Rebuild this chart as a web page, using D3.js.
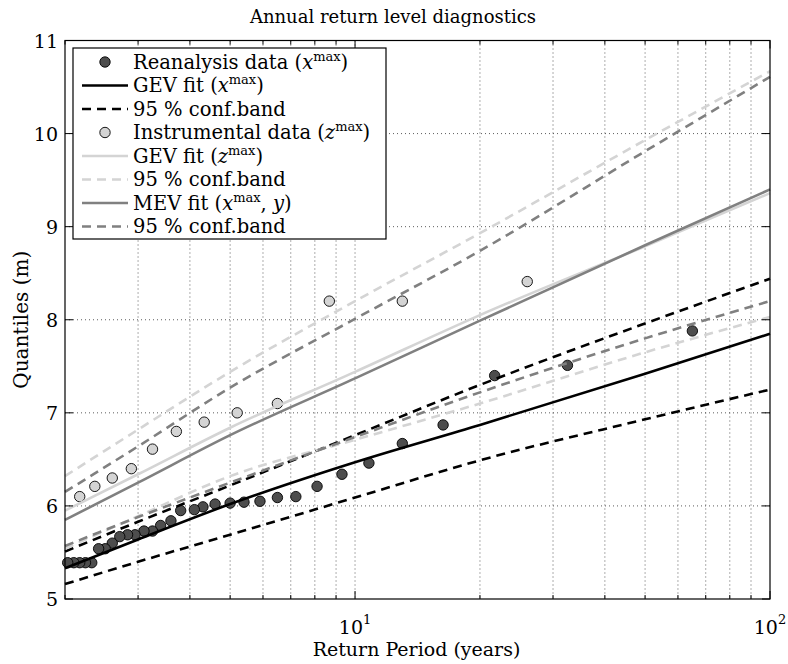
<!DOCTYPE html>
<html>
<head>
<meta charset="utf-8">
<script src="https://cdn.jsdelivr.net/npm/d3@7"></script>
<style>
body { margin: 0; background: #fff; }
</style>
</head>
<body>
<script>
// Эмпирические точки: период повторяемости (лет) и уровень (м)
let reanalysisT = [65, 32.5, 21.7, 16.3, 13, 10.8, 9.3, 8.1, 7.2, 6.5, 5.9, 5.4, 5.0, 4.6, 4.3, 4.1,
                   3.8, 3.6, 3.4, 3.25, 3.1, 2.95, 2.83, 2.71, 2.6, 2.5, 2.41, 2.32, 2.24, 2.17, 2.1, 2.03];
let reanalysisQ = [7.88, 7.51, 7.40, 6.87, 6.67, 6.46, 6.34, 6.21, 6.10, 6.09, 6.05, 6.04, 6.03, 6.02, 5.99, 5.96,
                   5.95, 5.84, 5.79, 5.73, 5.73, 5.69, 5.69, 5.67, 5.60, 5.54, 5.54, 5.39, 5.39, 5.39, 5.39, 5.39];
let instrumentalT = [26, 13, 8.67, 6.5, 5.2, 4.33, 3.71, 3.25, 2.89, 2.6, 2.36, 2.17];
let instrumentalQ = [8.41, 8.20, 8.20, 7.10, 7.00, 6.90, 6.80, 6.61, 6.40, 6.30, 6.21, 6.10];

// Кривые подгонки в узлах fitT
let fitT     = [2, 3, 5, 10, 20, 50, 100];
let gevX     = [5.33, 5.64, 6.02, 6.47, 6.87, 7.42, 7.85];
let gevXLow  = [5.16, 5.40, 5.69, 6.09, 6.49, 6.93, 7.25];
let gevXHigh = [5.51, 5.83, 6.22, 6.76, 7.30, 7.96, 8.44];
let gevZ     = [5.95, 6.34, 6.84, 7.44, 8.05, 8.79, 9.36];
let gevZLow  = [5.54, 5.89, 6.32, 6.71, 7.10, 7.65, 8.03];
let gevZHigh = [6.32, 6.82, 7.44, 8.20, 8.93, 9.93, 10.67];
let mev      = [5.85, 6.25, 6.76, 7.37, 7.99, 8.80, 9.40];
let mevLow   = [5.57, 5.88, 6.25, 6.74, 7.22, 7.80, 8.20];
let mevHigh  = [6.15, 6.64, 7.27, 8.01, 8.74, 9.81, 10.61];

let yTicks = [5, 6, 7, 8, 9, 10, 11];
let xMajor = [10, 100];
let xMinor = [2, 3, 4, 5, 6, 7, 8, 9, 20, 30, 40, 50, 60, 70, 80, 90];

let margin = {top: 40.5, right: 18, bottom: 65, left: 65},
    width = 788 - margin.left - margin.right,
    height = 664 - margin.top - margin.bottom;

let svg = d3.select("body").append("svg")
    .attr("width", 788)
    .attr("height", 664)
    .attr("font-family", "'DejaVu Serif', 'Liberation Serif', 'Times New Roman', serif");
let g = svg.append("g")
    .attr("transform", "translate(" + margin.left + "," + margin.top + ")");

let x = d3.scaleLog().domain([2, 100]).range([0, width]);
let y = d3.scaleLinear().domain([5, 11]).range([height, 0]);

const DARK = "#4d4d4d", LIGHT = "#d4d4d4", MID = "#808080";

// Сетка
let grid = g.append("g").attr("stroke", "#333").attr("stroke-width", 0.8)
    .attr("stroke-dasharray", "1,3");
grid.selectAll(".gx").data(xMinor.concat([10]).filter(d => d > 2))
    .join("line")
    .attr("x1", d => x(d)).attr("x2", d => x(d))
    .attr("y1", 0).attr("y2", height);
grid.selectAll(".gy").data(yTicks.filter(d => d > 5 && d < 11))
    .join("line")
    .attr("x1", 0).attr("x2", width)
    .attr("y1", d => y(d)).attr("y2", d => y(d));

// Линии
let line = d3.line()
    .x(d => x(d[0]))
    .y(d => y(d[1]))
    .curve(d3.curveMonotoneX);

function drawLine(vals, color, dashed) {
    g.append("path")
        .datum(fitT.map((t, i) => [t, vals[i]]))
        .attr("fill", "none")
        .attr("stroke", color)
        .attr("stroke-width", 2.6)
        .attr("stroke-dasharray", dashed ? "9,6" : null)
        .attr("d", line);
}

function drawPoints(ts, qs, fill) {
    g.append("g").selectAll("circle")
        .data(ts.map((t, i) => [t, qs[i]]))
        .join("circle")
        .attr("cx", d => x(d[0]))
        .attr("cy", d => y(d[1]))
        .attr("r", 5.2)
        .attr("fill", fill)
        .attr("stroke", "#000")
        .attr("stroke-width", 0.9);
}

drawPoints(reanalysisT, reanalysisQ, DARK);
drawLine(gevX, "#000", false);
drawLine(gevXLow, "#000", true);
drawLine(gevXHigh, "#000", true);
drawPoints(instrumentalT, instrumentalQ, LIGHT);
drawLine(gevZ, LIGHT, false);
drawLine(gevZLow, LIGHT, true);
drawLine(gevZHigh, LIGHT, true);
drawLine(mev, MID, false);
drawLine(mevLow, MID, true);
drawLine(mevHigh, MID, true);

// Рамка и засечки внутрь
g.append("rect")
    .attr("width", width).attr("height", height)
    .attr("fill", "none").attr("stroke", "#000").attr("stroke-width", 1.2);

let ticks = g.append("g").attr("stroke", "#000").attr("stroke-width", 1);
function xTick(vals, len) {
    ticks.selectAll(null).data(vals).join("line")
        .attr("x1", d => x(d)).attr("x2", d => x(d))
        .attr("y1", height).attr("y2", height - len);
    ticks.selectAll(null).data(vals).join("line")
        .attr("x1", d => x(d)).attr("x2", d => x(d))
        .attr("y1", 0).attr("y2", len);
}
xTick(xMinor, 4);
xTick(xMajor, 8);
ticks.selectAll(null).data(yTicks).join("line")
    .attr("x1", 0).attr("x2", 8)
    .attr("y1", d => y(d)).attr("y2", d => y(d));
ticks.selectAll(null).data(yTicks).join("line")
    .attr("x1", width).attr("x2", width - 8)
    .attr("y1", d => y(d)).attr("y2", d => y(d));

// Подписи засечек
g.append("g").selectAll("text").data(yTicks).join("text")
    .attr("x", -7)
    .attr("y", d => y(d) + 7)
    .attr("text-anchor", "end")
    .style("font-size", "19px")
    .text(d => d);

let xl = g.append("g").selectAll("text").data(xMajor).join("text")
    .attr("x", d => x(d))
    .attr("y", height + 35)
    .attr("text-anchor", "middle")
    .style("font-size", "19px");
xl.append("tspan").text("10");
xl.append("tspan").attr("dy", -10).style("font-size", "13px").text(d => Math.round(Math.log10(d)));

// Заголовок и оси
svg.append("text")
    .attr("x", 393).attr("y", 23)
    .attr("text-anchor", "middle")
    .style("font-size", "18px")
    .text("Annual return level diagnostics");

svg.append("text")
    .attr("x", margin.left + width / 2 - 1).attr("y", 656)
    .attr("text-anchor", "middle")
    .style("font-size", "19px")
    .text("Return Period (years)");

svg.append("text")
    .attr("transform", "translate(28," + (margin.top + height / 2) + ") rotate(-90)")
    .attr("text-anchor", "middle")
    .style("font-size", "20px")
    .text("Quantiles (m)");

// Легенда
let legendItems = [
    {pre: "Reanalysis data (", v: "x", sup: "max", post: ")", kind: "point", color: DARK},
    {pre: "GEV fit (", v: "x", sup: "max", post: ")", kind: "solid", color: "#000"},
    {pre: "95 % conf.band", kind: "dash", color: "#000"},
    {pre: "Instrumental data (", v: "z", sup: "max", post: ")", kind: "point", color: LIGHT},
    {pre: "GEV fit (", v: "z", sup: "max", post: ")", kind: "solid", color: LIGHT},
    {pre: "95 % conf.band", kind: "dash", color: LIGHT},
    {pre: "MEV fit (", v: "x", sup: "max", post: ", ", v2: "y", post2: ")", kind: "solid", color: MID},
    {pre: "95 % conf.band", kind: "dash", color: MID}
];

let lg = svg.append("g").attr("transform", "translate(73,48)");
lg.append("rect")
    .attr("width", 313).attr("height", 191)
    .attr("fill", "#fff").attr("stroke", "#000").attr("stroke-width", 1.2);

let row = lg.selectAll(".row").data(legendItems).join("g")
    .attr("transform", (d, i) => "translate(0," + (14 + i * 23.5) + ")");

row.filter(d => d.kind !== "point").append("line")
    .attr("x1", 9).attr("x2", 55)
    .attr("stroke", d => d.color)
    .attr("stroke-width", 2.6)
    .attr("stroke-dasharray", d => d.kind === "dash" ? "9,6" : null);
row.filter(d => d.kind === "point").append("circle")
    .attr("cx", 32).attr("r", 5.2)
    .attr("fill", d => d.color)
    .attr("stroke", "#000").attr("stroke-width", 0.9);

let lt = row.append("text")
    .attr("x", 60).attr("y", 6.5)
    .style("font-size", "19.5px");
lt.append("tspan").text(d => d.pre);
lt.filter(d => d.v).append("tspan").style("font-style", "italic").text(d => d.v);
lt.filter(d => d.sup).append("tspan").attr("dy", -8).style("font-size", "13px").text(d => d.sup);
lt.filter(d => d.post).append("tspan").attr("dy", 8).text(d => d.post);
lt.filter(d => d.v2).append("tspan").style("font-style", "italic").text(d => d.v2);
lt.filter(d => d.post2).append("tspan").text(d => d.post2);
</script>
</body>
</html>
